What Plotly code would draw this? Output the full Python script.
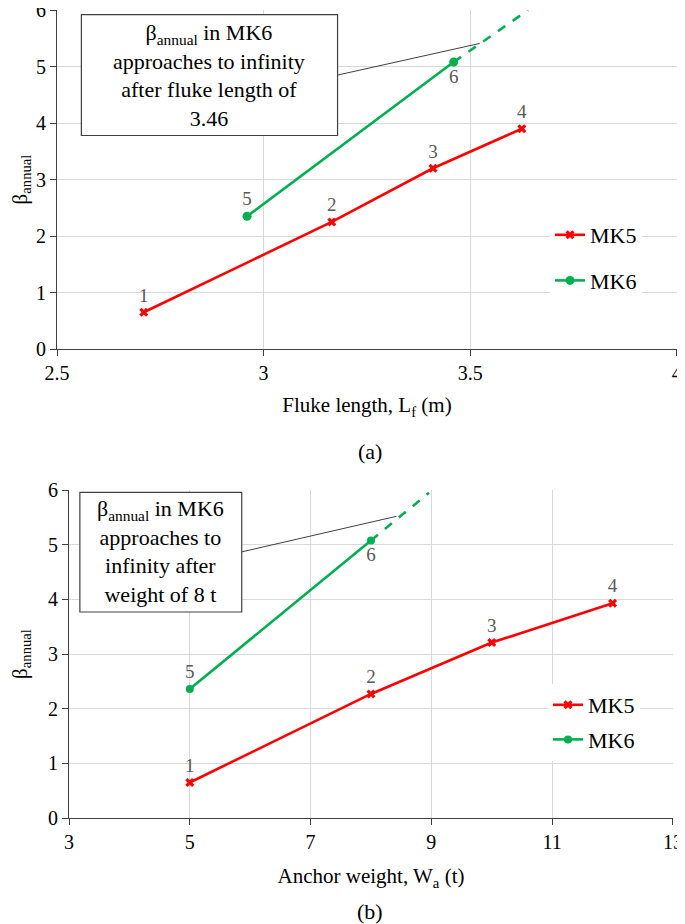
import plotly.graph_objects as go

# ---------------- data ----------------
# (a) Fluke length
a_mk5_x = [2.71, 3.165, 3.41, 3.625]
a_mk5_y = [0.65, 2.25, 3.2, 3.9]
a_mk5_lbl = ["1", "2", "3", "4"]
a_mk6_x = [2.96, 3.46]
a_mk6_y = [2.35, 5.08]
a_mk6_lbl = ["5", "6"]
a_ext_x = [3.46, 3.64]
a_ext_y = [5.08, 6.0]

# (b) Anchor weight
b_mk5_x = [5, 8, 10, 12]
b_mk5_y = [0.65, 2.27, 3.21, 3.93]
b_mk5_lbl = ["1", "2", "3", "4"]
b_mk6_x = [5, 8]
b_mk6_y = [2.36, 5.08]
b_mk6_lbl = ["5", "6"]
b_ext_x = [8, 8.96]
b_ext_y = [5.08, 5.95]

a_xticks = [2.5, 3, 3.5, 4]
b_xticks = [3, 5, 7, 9, 11, 13]
yticks = [0, 1, 2, 3, 4, 5, 6]

RED = "#FF0000"
GREEN = "#00B050"
GRAY = "#595959"
FONT = "serif"
OFF = 8                      # page body margin
W, H = 685 - OFF, 924 - OFF  # figure size

fig = go.Figure()

def add_series(x, y, lbl, pos, name, color, symbol, msize, xa, ya, legend):
    fig.add_trace(go.Scatter(
        x=x, y=y, text=lbl, mode="lines+markers+text", name=name,
        textposition=pos, textfont=dict(family=FONT, size=19, color=GRAY),
        line=dict(color=color, width=2.6),
        marker=dict(color=color, symbol=symbol, size=msize,
                    line=dict(width=0)),
        xaxis=xa, yaxis=ya, legend=legend, legendgroup=name + legend,
        cliponaxis=False))

add_series(a_mk5_x, a_mk5_y, a_mk5_lbl, "top center", "MK5", RED, "x", 8, "x", "y", "legend")
add_series(a_mk6_x, a_mk6_y, a_mk6_lbl, ["top center", "bottom center"], "MK6", GREEN, "circle", 9, "x", "y", "legend")
fig.add_trace(go.Scatter(x=a_ext_x, y=a_ext_y, mode="lines", showlegend=False,
                         line=dict(color=GREEN, width=2.6, dash="dash"), xaxis="x", yaxis="y"))

add_series(b_mk5_x, b_mk5_y, b_mk5_lbl, "top center", "MK5", RED, "x", 8, "x2", "y2", "legend2")
add_series(b_mk6_x, b_mk6_y, b_mk6_lbl, ["top center", "bottom center"], "MK6", GREEN, "circle", 8, "x2", "y2", "legend2")
fig.add_trace(go.Scatter(x=b_ext_x, y=b_ext_y, mode="lines", showlegend=False,
                         line=dict(color=GREEN, width=2.6, dash="dash"), xaxis="x2", yaxis="y2"))

# plot areas given in reference-page pixels
def dom_x(l, r):
    return [(l - OFF) / W, (r - OFF) / W]

def dom_y(t, b):
    return [(924 - b) / H, (924 - t) / H]

def px_x(p):
    return (p - OFF) / W

def px_y(p):
    return (924 - p) / H

axis_common = dict(
    showgrid=True, gridcolor="#D9D9D9", gridwidth=1,
    showline=True, linecolor="#404040", linewidth=1.2,
    ticks="outside", ticklen=6, tickcolor="#404040",
    zeroline=False, automargin=False, ticklabeloverflow="allow",
    tickfont=dict(family=FONT, size=20, color="#000000"),
)
title_font = dict(family=FONT, size=21, color="#000000")

fig.update_layout(
    template="none",
    width=W, height=H,
    margin=dict(l=0, r=0, t=0, b=0),
    plot_bgcolor="white", paper_bgcolor="white",
    font=dict(family=FONT, size=20, color="#000000"),
    xaxis=dict(axis_common, domain=dom_x(57, 677), range=[2.5, 4.0005],
               tickvals=a_xticks, ticktext=[str(v) for v in a_xticks], anchor="y",
               title=dict(text="Fluke length, L<sub>f</sub> (m)", font=title_font, standoff=14)),
    yaxis=dict(axis_common, domain=dom_y(10, 349), range=[0, 6.002],
               tickvals=yticks, anchor="x",
               title=dict(text="β<sub>annual</sub>", font=title_font, standoff=19)),
    xaxis2=dict(axis_common, domain=dom_x(69, 673), range=[3, 13.001],
                tickvals=b_xticks, anchor="y2",
                title=dict(text="Anchor weight, W<sub>a</sub> (t)", font=title_font, standoff=16)),
    yaxis2=dict(axis_common, domain=dom_y(490, 818), range=[0, 6.002],
                tickvals=yticks, anchor="x2",
                title=dict(text="β<sub>annual</sub>", font=title_font, standoff=19)),
    legend=dict(x=px_x(550), y=px_y(214), xanchor="left", yanchor="top",
                bgcolor="white", font=dict(family=FONT, size=22, color="#000000"),
                itemwidth=30, traceorder="grouped", tracegroupgap=14),
    legend2=dict(x=px_x(548), y=px_y(684), xanchor="left", yanchor="top",
                 bgcolor="white", font=dict(family=FONT, size=22, color="#000000"),
                 itemwidth=30, traceorder="grouped", tracegroupgap=3),
    showlegend=True,
)

# callout boxes
box_line = dict(color="#404040", width=1.2)
fig.add_shape(type="rect", xref="x", yref="y", x0=2.559, x1=3.179, y0=3.78, y1=5.92,
              line=box_line, fillcolor="white", layer="above")
fig.add_shape(type="line", xref="x", yref="y", x0=3.179, y0=4.85, x1=3.523, y1=5.41,
              line=dict(color="#404040", width=1))
fig.add_annotation(xref="x", yref="y", x=2.869, y=4.85, showarrow=False,
                   text="β<sub>annual</sub> in MK6<br>approaches to infinity<br>after fluke length of<br>3.46",
                   font=dict(family=FONT, size=22, color="#000000"), align="center")

fig.add_shape(type="rect", xref="x2", yref="y2", x0=3.18, x1=5.86, y0=3.77, y1=5.96,
              line=box_line, fillcolor="white", layer="above")
fig.add_shape(type="line", xref="x2", yref="y2", x0=5.86, y0=4.87, x1=8.42, y1=5.52,
              line=dict(color="#404040", width=1))
fig.add_annotation(xref="x2", yref="y2", x=4.52, y=4.87, showarrow=False,
                   text="β<sub>annual</sub> in MK6<br>approaches to<br>infinity after<br>weight of 8 t",
                   font=dict(family=FONT, size=22, color="#000000"), align="center")

# panel captions
fig.add_annotation(xref="paper", yref="paper", x=px_x(370), y=px_y(451), showarrow=False,
                   xanchor="center", yanchor="middle",
                   text="(a)", font=dict(family=FONT, size=22, color="#000000"))
fig.add_annotation(xref="paper", yref="paper", x=px_x(370), y=px_y(911), showarrow=False,
                   xanchor="center", yanchor="middle",
                   text="(b)", font=dict(family=FONT, size=22, color="#000000"))

fig.write_html("out.html")
